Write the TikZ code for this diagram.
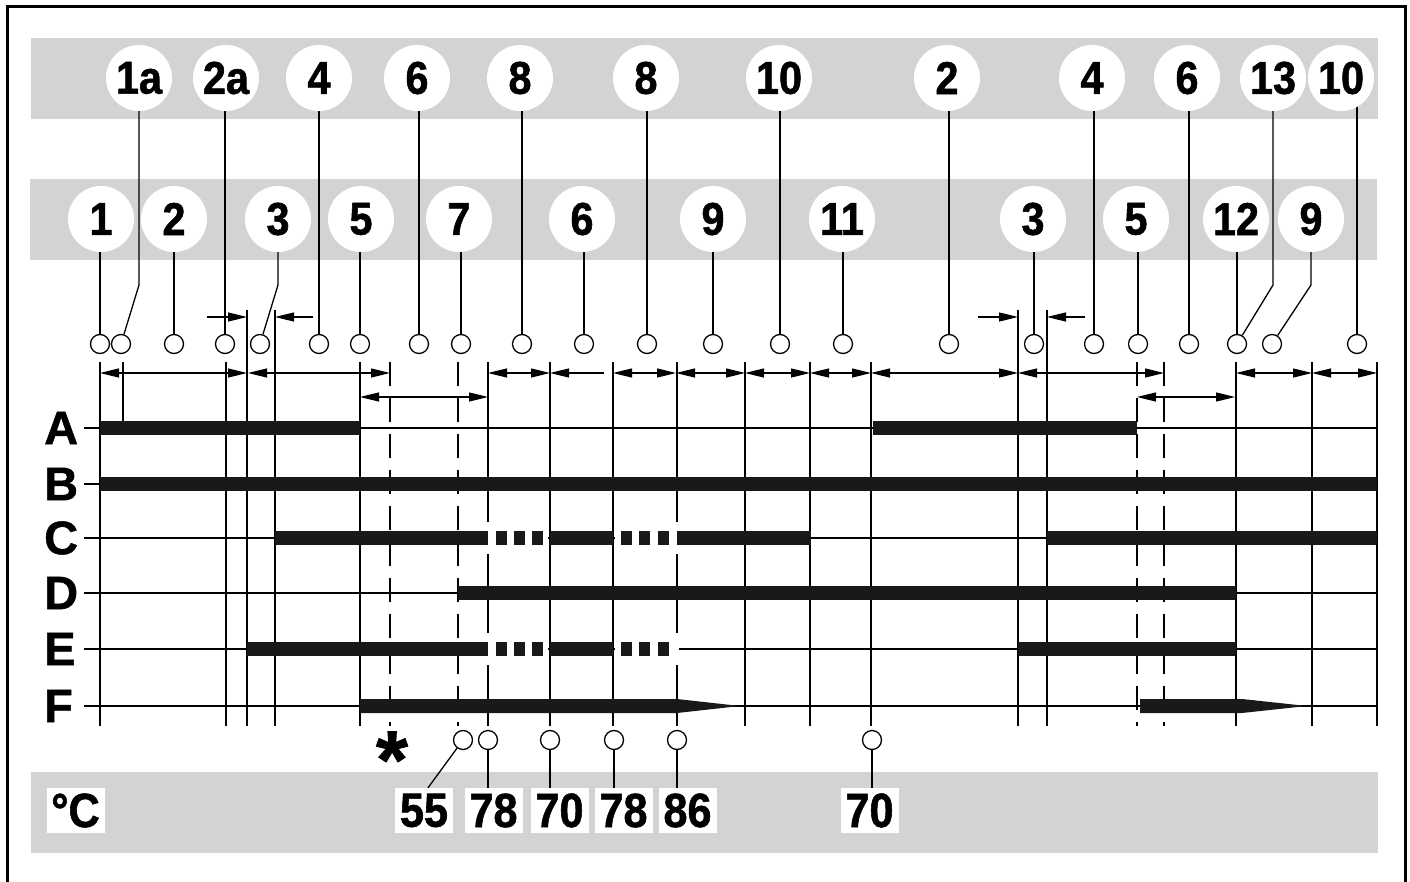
\documentclass[tikz,border=0pt]{standalone}
\usepackage{fontspec}
\setmainfont{Liberation Sans}
\newfontfamily\cnd[FakeStretch=0.9,FakeBold=1.2]{Liberation Sans Bold}
\newfontfamily\rowfam[FakeBold=1.0]{Liberation Sans Bold}
\usetikzlibrary{arrows.meta}
\pgfdeclarelayer{bg}\pgfdeclarelayer{mid}\pgfsetlayers{bg,mid,main}
\definecolor{band}{RGB}{210,211,213}
\newcommand\numf{\cnd\fontsize{46}{46}\selectfont}
\newcommand\tmpf{\cnd\fontsize{48}{48}\selectfont}
\newcommand\rowf{\rowfam\fontsize{47}{47}\selectfont}
\newcommand\astf{\rowfam\fontsize{82}{82}\selectfont}
\tikzset{
  big/.style={circle, fill=white, minimum size=66pt, inner sep=0pt, font=\numf},
  small/.style={circle, draw, fill=white, minimum size=19pt, inner sep=0pt, line width=1.3pt},
  tbox/.style={fill=white, minimum width=58pt, minimum height=45pt, inner sep=0pt, font=\tmpf},
  rowlab/.style={anchor=west, inner sep=0pt, font=\rowf},
  conn/.style={line width=1.3pt},
  grid/.style={line width=1.3pt},
  dgrid/.style={line width=1.3pt, dash pattern=on 24pt off 12pt},
  rowline/.style={line width=1.5pt},
  dim/.style={{Triangle[length=19pt,width=9pt]}-{Triangle[length=19pt,width=9pt]}, line width=1.2pt},
  ldim/.style={{Triangle[length=19pt,width=9pt]}-, line width=1.2pt},
  rdim/.style={-{Triangle[length=19pt,width=9pt]}, line width=1.2pt},
  bar/.style={fill=black!90}
}
\begin{document}
\begin{tikzpicture}[x=1pt,y=-1pt]
\useasboundingbox (0,0) rectangle (1410,882);
% frame
\draw[line width=3pt] (7,900) -- (7,7) -- (1405,7) -- (1405,900);
% bands
\begin{pgfonlayer}{bg}
\fill[band] (31,38) rectangle (1378,119);
\fill[band] (30,179) rectangle (1377,260);
\fill[band] (31,772) rectangle (1378,853);
\end{pgfonlayer}
% top row circles
\foreach \n/\x/\t in {1/139/1a,2/226/2a,3/319/4,4/417/6,5/520/8,6/646/8,7/779/10,8/947/2,9/1092/4,10/1187/6,11/1273/13,12/1341/10}
  \node[big] (T\n) at (\x,78) {\t};
% middle row circles
\foreach \n/\x/\t in {1/101/1,2/174/2,3/278/3,4/361/5,5/459/7,6/582/6,7/713/9,8/842/11,9/1033/3,10/1136/5,11/1236/12,12/1311/9}
  \node[big] (M\n) at (\x,219) {\t};
% small circles
\foreach \n/\x in {1/100,2/121,3/174,4/225,5/260,6/319,7/360,8/419,9/461,10/522,11/584,12/647,13/713,14/780,15/843,16/949,17/1034,18/1094,19/1138,20/1189,21/1237,22/1272,23/1357}
  \node[small] (S\n) at (\x,344) {};
% leader lines
\begin{pgfonlayer}{mid}
\foreach \s/\b in {S1/M1,S3/M2,S4/T2,S6/T3,S7/M4,S8/T4,S9/M5,S10/T5,S11/M6,S12/T6,S13/M7,S14/T7,S15/M8,S16/T8,S17/M9,S18/T9,S19/M10,S20/T10,S21/M11,S23/T12}
  \draw[conn] (\s) -- (\s |- \b.center);
\draw[conn] (T1) -- (T1 |- 0,285) -- (S2);
\draw[conn] (M3) -- (M3 |- 0,285) -- (S5);
\draw[conn] (T11) -- (T11 |- 0,285) -- (S21);
\draw[conn] (M12) -- (M12 |- 0,285) -- (S22);
\end{pgfonlayer}
% row lines and labels
\foreach \r/\y in {A/428,B/484,C/538,D/593,E/649,F/706}{
  \draw[rowline] (84,\y) -- (1377,\y);
  \node[rowlab] (R\r) at (44,\y) {\r};
}
% vertical grid lines
\foreach \x in {100,226,360,488,550,613,677,745,810,871,1236,1312,1377}
  \draw[grid] (\x,362) -- (\x,726);
\foreach \x in {247,275,1018,1047}
  \draw[grid] (\x,310) -- (\x,726);
\foreach \x in {390,458,1137,1164}
  \draw[dgrid] (\x,362) -- (\x,726);
\draw[grid] (123,362) -- (123,428);
% white gaps
\fill[white] (486,522) rectangle (548,554);
\fill[white] (615,522) rectangle (679,554);
\fill[white] (486,633) rectangle (548,665);
\fill[white] (615,633) rectangle (679,665);
% bars
\def\hb{7}
% A
\fill[bar] (100,428-\hb) rectangle (360,428+\hb);
\fill[bar] (873,428-\hb) rectangle (1137,428+\hb);
% B
\fill[bar] (100,484-\hb) rectangle (1377,484+\hb);
% C
\fill[bar] (275,538-\hb) rectangle (488,538+\hb);
\fill[bar] (550,538-\hb) rectangle (613,538+\hb);
\fill[bar] (677,538-\hb) rectangle (811,538+\hb);
\fill[bar] (1047,538-\hb) rectangle (1377,538+\hb);
% D
\fill[bar] (458,593-\hb) rectangle (1236,593+\hb);
% E
\fill[bar] (247,649-\hb) rectangle (488,649+\hb);
\fill[bar] (550,649-\hb) rectangle (613,649+\hb);
\fill[bar] (1018,649-\hb) rectangle (1236,649+\hb);
% dotted squares
\foreach \y in {538,649}
  \foreach \x in {496,514,532,621,639,658}
    \fill[bar] (\x,\y-\hb) rectangle (\x+11,\y+\hb);
% F tapered bars
\fill[bar] (360,706-\hb) -- (677,706-\hb) -- (740,706) -- (677,706+\hb) -- (360,706+\hb) -- cycle;
\fill[bar] (1140,706-\hb) -- (1242,706-\hb) -- (1307,706) -- (1242,706+\hb) -- (1140,706+\hb) -- cycle;
% dimension arrows
\foreach \a/\b in {100/247,248/390,488/550,613/676,676/745,745/810,810/871,871/1018,1018/1164,1236/1312,1312/1377}
  \draw[dim] (\a,373) -- (\b,373);
\draw[ldim] (550,373) -- (604,373);
\draw[dim] (360,397) -- (488,397);
\draw[dim] (1137,397) -- (1235,397);
\draw[rdim] (207,317) -- (247,317);
\draw[rdim] (313,317) -- (275,317);
\draw[rdim] (978,317) -- (1018,317);
\draw[rdim] (1085,317) -- (1047,317);
% bottom temperature markers
\foreach \n/\x in {1/463,2/488,3/550,4/614,5/677,6/872}
  \node[small] (B\n) at (\x,740) {};
\node[tbox] (Lc) at (75.5,810.5) {°C};
\node[tbox] (L1) at (424,810.5) {55};
\node[tbox] (L2) at (493.5,810.5) {78};
\node[tbox] (L3) at (559.5,810.5) {70};
\node[tbox] (L4) at (623.5,810.5) {78};
\node[tbox] (L5) at (687.5,810.5) {86};
\node[tbox] (L6) at (869.5,810.5) {70};
\draw[conn] (B1) -- ([xshift=4pt]L1.north);
\foreach \n in {2,...,6}
  \draw[conn] (B\n) -- (B\n |- L\n.north);
\node[inner sep=0pt, anchor=base, font=\astf] (ast) at (392,788) {*};
\end{tikzpicture}
\end{document}
